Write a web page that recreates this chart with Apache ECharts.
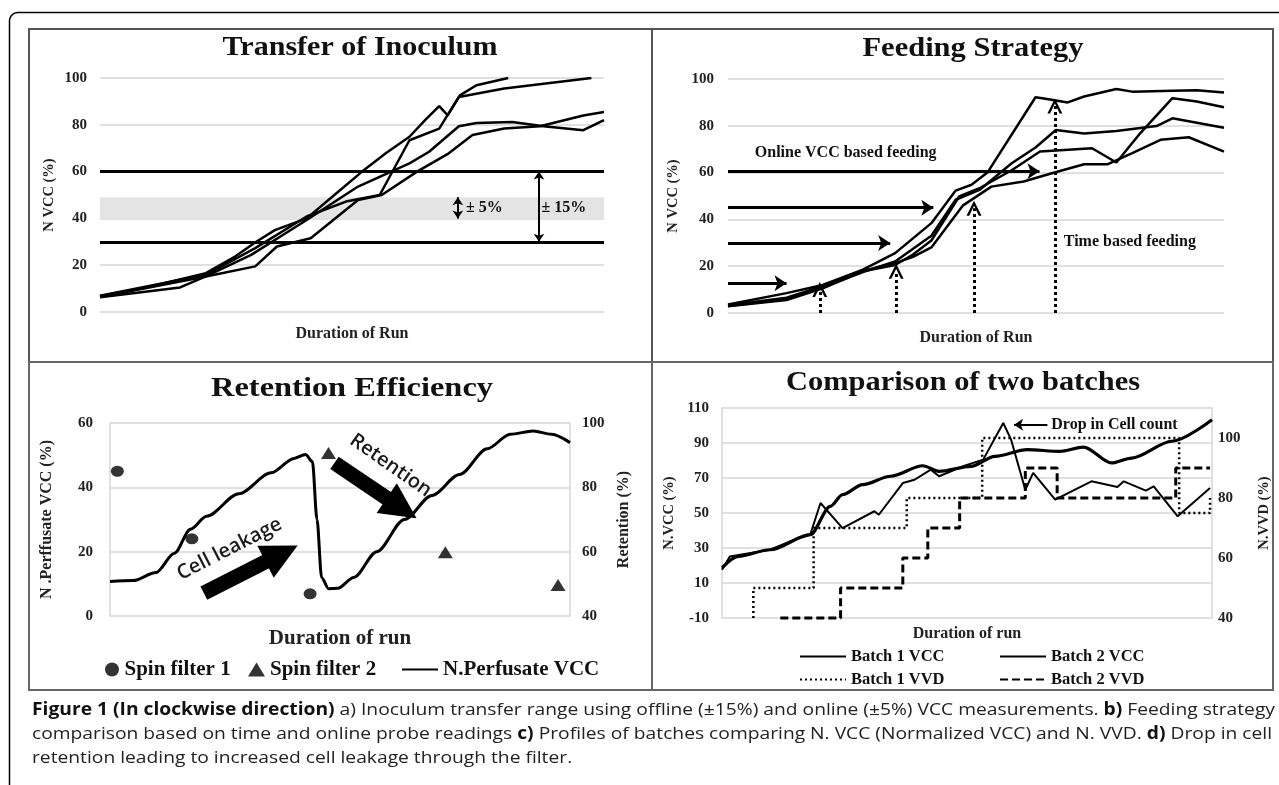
<!DOCTYPE html>
<html><head><meta charset="utf-8">
<script src="https://cdn.jsdelivr.net/npm/echarts@6/dist/echarts.min.js"></script>
<style>html,body{margin:0;padding:0;background:#fff}#c{width:1279px;height:785px}</style>
</head><body><div id="c"></div>
<script>
// ---------- Panel a: Transfer of Inoculum (x = % of run duration) ----------
const aRun1X = [0,9.6,21,26.8,31,34.7,41,46.5,52,56.7,61.4,64.5,67.3,69,71.4,74.7,81];
const aRun1Y = [6.7,10.7,16.6,23.7,30,35,40,50,60,67.8,74.9,82,88,84,92.6,96.9,100];
const aRun2X = [0,21,30.8,41,48.8,55.5,61.4,67.3,71.2,80.2,97.5];
const aRun2Y = [7,15.9,27.3,40.8,47.2,50,73.4,78.4,91.9,95.5,100];
const aRun3X = [0,21,30,41,51.2,61.4,65.3,71.2,74.7,81.8,88,95.9,100];
const aRun3Y = [6.4,15.2,24.4,39.3,53.6,63.5,68.5,79.4,80.8,81.2,79.4,77.7,82];
const aRun4X = [0,15.9,21,30.8,35.1,41.8,51.2,55.9,62.9,69.2,73.9,80.2,87.3,95.9,100];
const aRun4Y = [6.3,10.5,15.2,19.5,28,31.5,47.9,50,60,67.8,75.6,78.4,79.4,84,85.5];
const aOfflineRange = [30, 60];   // ±15%
const aOnlineRange = [40, 49];    // ±5%
const aYTicks = {min:0, max:100, step:20};

// ---------- Panel b: Feeding Strategy ----------
const bRun1X = [0,11.8,19.1,27.2,33.7,41,45.9,49.1,52.3,62,64,68.5,71.8,78.3,81.5,89.6,94.5,100];
const bRun1Y = [3.6,8.5,12,18.5,25.6,38.4,52.3,54.8,60,92.2,91.6,90,92.5,95.7,94.6,95,95.2,94.2];
const bRun2X = [0,11.8,19.1,27.2,33.7,41,45.9,50.7,57.2,62,66.1,71.8,78.3,86.4,89.6,100];
const bRun2Y = [3,6,11,17.5,22,33,48.4,52.6,64,70.7,78.2,76.7,77.8,79.9,83.2,79.2];
const bRun3X = [0,11.8,19.1,27.2,33.7,37.3,41,46.6,50.7,57.2,62.9,73.4,78.3,83.1,89.6,94.5,100];
const bRun3Y = [2.9,5.5,10.5,17.8,20.5,25,31,49.8,53.3,61,69,70.4,64.3,76.8,91.8,90.4,87.9];
const bRun4X = [0,11.8,19.1,27.2,33.7,37.3,41,47.4,53.1,59.6,65.3,71.8,76.6,81.5,87.2,92.9,100];
const bRun4Y = [3.3,6.5,11.5,18,21.3,24,28,46,54,56.2,59.7,63.6,63.6,68.3,74,75.1,69];
const bOnlineLevels = [12.7, 29.9, 45, 60.6];     // N VCC levels of online feeding
const bOnlineReachX = [11.8, 32.7, 41.4, 62.8];
const bTimeFeedX = [18.5, 33.9, 49.6, 65.9];      // time based feeds
const bTimeFeedTop = [10, 17.8, 44.8, 88.5];

// ---------- Panel c: Retention Efficiency ----------
const cPerfX = [0,5,10,14,17.5,21,28,35,40,42.5,44,45,46,47.5,49.5,53,58,64,70,76,82,87,92,96,100];
const cPerfY = [10.7,11,13.5,19.5,27,31,38,44.5,49,50.2,48,30,12,8.5,8.6,12,20,30,37.5,44,52,56.5,57.5,56.5,53.9];
const cSpin1X = [1.6, 17.8, 43.5];
const cSpin1Y = [85, 64, 46.9];      // Retention (%)
const cSpin2X = [47.5, 72.9, 97.4];
const cSpin2Y = [90.7, 59.8, 49.6];  // Retention (%)

// ---------- Panel d: Comparison of two batches ----------
const dB1VccX = [0,1.6,9.8,13.9,18,20.1,24.6,31.1,32,36.9,39.3,42.6,44.3,49.2,53.3,57.4,59,61.9,63.5,68,75.4,80.7,82,86.5,88.1,93,99.6];
const dB1VccY = [17.6,25.2,29,33.8,37.6,55.7,41.4,51,49,67.1,69,74.8,71,76.7,80.5,101.4,91.9,63.3,72.9,57.6,68.1,64.9,68.1,62.8,65.2,48.1,64.3];
const dB2VccX = [0,3.3,9.8,18,22.1,24.6,28.7,34.4,41,44.3,50.8,55.7,62.3,68.9,73.8,79.5,83.6,91.8,100];
const dB2VccY = [18.6,25.2,29,37.6,53.8,60.5,66.2,71,77,73.8,76.7,82.4,86.2,85.2,87.7,78.6,81.4,91,103.3];
const dB1VvdX = [6.4,6.4,18.7,37.7,53.1,93.3,99.6];
const dB1VvdY = [40,50,70,80,100,75,80];
const dB2VvdX = [11.9,24.2,36.9,42,48.5,61.9,68.4,92.6,99.6];
const dB2VvdY = [40,50,60,70,80,90,80,90,90];
const dVccMin = -10, dVccMax = 110, dVccStep = 20;
const dVvdMin = 40, dVvdMax = 110, dVvdStep = 20;

// ---------- texts ----------
const titles = ['Transfer of Inoculum','Feeding Strategy','Retention Efficiency','Comparison of two batches'];
const captionLines = [
  '{b|Figure 1 (In clockwise direction)}{n| a) Inoculum transfer range using offline (±15%) and online (±5%) VCC measurements. }{b|b)}{n| Feeding strategy}',
  '{n|comparison based on time and online probe readings }{b|c)}{n| Profiles of batches comparing N. VCC (Normalized VCC) and N. VVD. }{b|d)}{n| Drop in cell}',
  '{n|retention leading to increased cell leakage through the filter.}'
];

// ---------- helpers ----------
const FS = '"Liberation Serif","Times New Roman",serif';
const SANS = '"Open Sans","Noto Sans",sans-serif';
const pairs = (xs, ys, off) => xs.map((x, i) => [x, ys[i] + (off || 0)]);
const dOff = -dVccMin; // shift so the left axis starts at 0
const ctx = document.createElement('canvas').getContext('2d');
function textW(t, font){ ctx.font = font; return ctx.measureText(t).width; }

const lblStyle = {fontFamily: FS, fontWeight: 'bold', fontSize: 15, color: '#222'};
const nameStyle = (s) => ({fontFamily: FS, fontWeight: 'bold', fontSize: s, color: '#222'});
const grid = '#d6d6d6';

function lineSeries(name, data, xi, yi, w, extra){
  return Object.assign({type:'line', name, data, xAxisIndex:xi, yAxisIndex:yi, symbol:'none', silent:true,
    lineStyle:{color:'#000', width:w}, itemStyle:{color:'#000'}, z:3}, extra || {});
}
function txt(coord, text, pos, size, extra){
  return {coord, symbolSize:0, itemStyle:{color:'transparent'},
    label:Object.assign({show:true, formatter:text, position:pos, distance:0, fontFamily:FS, fontWeight:'bold', fontSize:size, color:'#111'}, extra||{})};
}
function seg(p1, p2, s1, s2, style, size){
  return [{coord:p1, symbol:s1, symbolSize:size, lineStyle:style}, {coord:p2, symbol:s2, symbolSize:size}];
}
const chevron = 'path://M0,10 L5,0 L10,10 L8.2,10 L5,3.4 L1.8,10 Z';

const series = [];
// panel a
[[aRun1X,aRun1Y],[aRun2X,aRun2Y],[aRun3X,aRun3Y],[aRun4X,aRun4Y]].forEach((r,i)=>series.push(lineSeries('a'+i, pairs(r[0],r[1]),0,0,2.5)));
series.push({type:'line', name:'aNotes', data:[], xAxisIndex:0, yAxisIndex:0, silent:true, z:2,
  markArea:{silent:true, itemStyle:{color:'#e4e4e4'}, data:[[{yAxis:aOnlineRange[0]},{yAxis:aOnlineRange[1]}]]},
  markLine:{silent:true, symbol:['none','none'], label:{show:false}, animation:false, data:[
    {yAxis:aOfflineRange[1], lineStyle:{color:'#000', width:3, type:'solid'}},
    {yAxis:aOfflineRange[0], lineStyle:{color:'#000', width:3, type:'solid'}},
    seg([71, aOnlineRange[0]],[71, aOnlineRange[1]],'arrow','arrow',{color:'#000',width:2,type:'solid'},8),
    seg([87.1, aOfflineRange[0]],[87.1, aOfflineRange[1]],'arrow','arrow',{color:'#000',width:2,type:'solid'},8)
  ]},
  markPoint:{silent:true, data:[txt([72.6,44.3],'± 5%','right',16), txt([87.6,44.3],'± 15%','right',16)]}
});
// panel b
[[bRun1X,bRun1Y],[bRun2X,bRun2Y],[bRun3X,bRun3Y],[bRun4X,bRun4Y]].forEach((r,i)=>series.push(lineSeries('b'+i, pairs(r[0],r[1]),1,1,2.5)));
const bLines = [];
bOnlineLevels.forEach((y,i)=>bLines.push(seg([0,y],[bOnlineReachX[i],y],'none','arrow',{color:'#000',width:3,type:'solid'},12)));
bTimeFeedX.forEach((x,i)=>bLines.push(seg([x,0],[x,bTimeFeedTop[i]],'none',chevron,{color:'#000',width:3,type:[3,3]},15)));
series.push({type:'line', name:'bNotes', data:[], xAxisIndex:1, yAxisIndex:1, silent:true, z:4,
  markLine:{silent:true, symbol:['none','none'], label:{show:false}, data:bLines},
  markPoint:{silent:true, data:[txt([5.4,68.3],'Online VCC based feeding','right',16), txt([67.7,30.6],'Time based feeding','right',16)]}
});
// panel c
series.push({type:'scatter', name:'Spin filter 1', data:pairs(cSpin1X,cSpin1Y), xAxisIndex:2, yAxisIndex:3, symbol:'circle', symbolSize:[13,11], itemStyle:{color:'#000'}, silent:true, z:4});
series.push({type:'scatter', name:'Spin filter 2', data:pairs(cSpin2X,cSpin2Y), xAxisIndex:2, yAxisIndex:3, symbol:'triangle', symbolSize:[15,12], itemStyle:{color:'#000'}, silent:true, z:4});
series.push(lineSeries('N.Perfusate VCC', pairs(cPerfX,cPerfY), 2, 2, 3, {smooth:0.3, smoothMonotone:'x'}));
series.push({type:'line', name:'cNotes', data:[], xAxisIndex:2, yAxisIndex:2, silent:true, z:5,
  markLine:{silent:true, symbol:['none','none'], label:{show:false}, data:[
    seg([20.4,7.1],[37.3,19.4],'none','triangle',{color:'#000',width:15,type:'solid'},36),
    seg([48.8,47.6],[63.4,33.5],'none','triangle',{color:'#000',width:15,type:'solid'},36)
  ]},
  markPoint:{silent:true, data:[
    txt([26,20.8],'Cell leakage','inside',20,{rotate:27, fontFamily:SANS, fontWeight:600, color:'#1a1a1a'}),
    txt([61,46.8],'Retention','inside',20,{rotate:-35, fontFamily:SANS, fontWeight:600, color:'#1a1a1a'})
  ]}
});
// panel d
series.push(lineSeries('Batch 1 VCC', pairs(dB1VccX,dB1VccY,dOff), 3, 4, 2));
series.push(lineSeries('Batch 2 VCC', pairs(dB2VccX,dB2VccY,dOff), 3, 4, 3.2, {smooth:0.3, smoothMonotone:'x'}));
series.push(lineSeries('Batch 1 VVD', pairs(dB1VvdX,dB1VvdY), 3, 5, 2.5, {step:'end', clip:false, lineStyle:{color:'#000', width:2.5, type:[2,3]}}));
series.push(lineSeries('Batch 2 VVD', pairs(dB2VvdX,dB2VvdY), 3, 5, 3, {step:'end', clip:false, lineStyle:{color:'#000', width:3, type:[8,4]}}));
series.push({type:'line', name:'dNotes', data:[], xAxisIndex:3, yAxisIndex:4, silent:true, z:5,
  markLine:{silent:true, symbol:['none','none'], label:{show:false}, data:[
    seg([66.4,100.5+dOff],[59.6,100.5+dOff],'none','arrow',{color:'#000',width:2,type:'solid'},9)
  ]},
  markPoint:{silent:true, data:[txt([67.2,100.5+dOff],'Drop in Cell count','right',16)]}
});

// ---------- axes ----------
const xAxes = [
  {gridIndex:0, name:'Duration of Run', nameGap:14, ns:16},
  {gridIndex:1, name:'Duration of Run', nameGap:17, ns:16},
  {gridIndex:2, name:'Duration of run', nameGap:12, ns:21},
  {gridIndex:3, name:'Duration of run', nameGap:8, ns:16}
].map(a=>({gridIndex:a.gridIndex, type:'value', min:0, max:100, axisLine:{show:false}, axisTick:{show:false},
  axisLabel:{show:false}, splitLine:{show:false}, name:a.name, nameLocation:'middle', nameGap:a.nameGap, nameTextStyle:nameStyle(a.ns)}));

const ySplit = {show:true, lineStyle:{color:grid, width:1.5}};
const yAxes = [
  {gridIndex:0, type:'value', min:aYTicks.min, max:aYTicks.max, interval:aYTicks.step, axisLine:{show:false}, axisTick:{show:false},
   axisLabel:Object.assign({margin:13}, lblStyle), splitLine:ySplit, name:'N VCC (%)', nameLocation:'middle', nameRotate:90, nameGap:43, nameTextStyle:nameStyle(14.5)},
  {gridIndex:1, type:'value', min:0, max:100, interval:20, axisLine:{show:false}, axisTick:{show:false},
   axisLabel:Object.assign({margin:14}, lblStyle), splitLine:ySplit, name:'N VCC (%)', nameLocation:'middle', nameRotate:90, nameGap:47, nameTextStyle:nameStyle(14.5)},
  {gridIndex:2, type:'value', min:0, max:60, interval:20, position:'left', axisLine:{show:true, lineStyle:{color:grid, width:1.5}}, axisTick:{show:false},
   axisLabel:Object.assign({margin:17}, lblStyle), splitLine:ySplit, name:'N .Perffusate VCC (%)', nameLocation:'middle', nameRotate:90, nameGap:55, nameTextStyle:nameStyle(16)},
  {gridIndex:2, type:'value', min:40, max:100, interval:20, position:'right', axisLine:{show:true, lineStyle:{color:grid, width:1.5}}, axisTick:{show:false},
   axisLabel:Object.assign({margin:12}, lblStyle), splitLine:{show:false}, name:'Retention (%)', nameLocation:'middle', nameRotate:90, nameGap:46, nameTextStyle:nameStyle(16)},
  {gridIndex:3, type:'value', min:0, max:dVccMax-dVccMin, interval:dVccStep, position:'left', axisLine:{show:true, lineStyle:{color:grid, width:1.5}}, axisTick:{show:false},
   axisLabel:Object.assign({margin:13, formatter:(v)=>String(v-dOff)}, lblStyle), splitLine:ySplit, name:'N.VCC (%)', nameLocation:'middle', nameRotate:90, nameGap:45, nameTextStyle:nameStyle(14.5)},
  {gridIndex:3, type:'value', min:dVvdMin, max:dVvdMax, interval:dVvdStep, position:'right', axisLine:{show:true, lineStyle:{color:grid, width:1.5}}, axisTick:{show:false},
   axisLabel:Object.assign({margin:6, formatter:(v)=>(v>100?'':String(v))}, lblStyle), splitLine:{show:false}, name:'N.VVD (%)', nameLocation:'middle', nameRotate:90, nameGap:45, nameTextStyle:nameStyle(14.5)}
];

// ---------- legends ----------
function lg(name, left, top, w, h, size, extra){
  return Object.assign({data:[name], left, top, itemWidth:w, itemHeight:h, padding:0, itemGap:0, selectedMode:false,
    textStyle:{fontFamily:FS, fontWeight:'bold', fontSize:size, color:'#111'}}, extra||{});
}
const legends = [
  lg('Spin filter 1', 105, 659, 15, 14, 21, {icon:'circle'}),
  lg('Spin filter 2', 248, 659, 17, 14, 21, {icon:'triangle'}),
  lg('N.Perfusate VCC', 401, 659, 36, 14, 21, {itemStyle:{opacity:0}}),
  lg('Batch 1 VCC', 799, 648, 46, 14, 16.5, {itemStyle:{opacity:0}}),
  lg('Batch 2 VCC', 999, 648, 46, 14, 16.5, {itemStyle:{opacity:0}}),
  lg('Batch 1 VVD', 799, 671, 46, 14, 16.5, {itemStyle:{opacity:0}}),
  lg('Batch 2 VVD', 999, 671, 46, 14, 16.5, {itemStyle:{opacity:0}})
];

// ---------- frame, titles, caption ----------
const titleFont = (s)=>'bold '+s+'px '+FS;
const titleSpec = [
  {t:titles[0], x:360, y:48, s:28, w:275},
  {t:titles[1], x:973, y:49, s:28, w:221},
  {t:titles[2], x:352, y:389, s:28, w:282},
  {t:titles[3], x:963, y:383, s:28, w:354}
];
const corner = [];
for (let k = 0; k <= 8; k++) { const a = Math.PI + k * Math.PI / 16; corner.push([18 + 8.5 * Math.cos(a), 21 + 8.5 * Math.sin(a)]); }
const graphics = [
  {type:'polyline', shape:{points:[[9.5,785]].concat(corner, [[1279,12.5]])}, style:{stroke:'#000', lineWidth:1.5, fill:null}, silent:true},
  {type:'rect', shape:{x:29,y:29,width:623,height:333}, style:{stroke:'#555', lineWidth:2, fill:null}, silent:true},
  {type:'rect', shape:{x:652,y:29,width:621,height:333}, style:{stroke:'#555', lineWidth:2, fill:null}, silent:true},
  {type:'rect', shape:{x:29,y:362,width:623,height:328}, style:{stroke:'#666', lineWidth:2, fill:null}, silent:true},
  {type:'rect', shape:{x:652,y:362,width:621,height:328}, style:{stroke:'#666', lineWidth:2, fill:null}, silent:true}
];
titleSpec.forEach(t=>{
  const sx = t.w / textW(t.t, titleFont(t.s));
  graphics.push({type:'text', x:t.x, y:t.y, scaleX:sx, silent:true,
    style:{text:t.t, font:titleFont(t.s), fill:'#111', align:'center', verticalAlign:'middle'}});
});
const capB = 'bold 17px '+SANS, capN = '17px '+SANS;
const line1W = textW('Figure 1 (In clockwise direction)', capB) + textW(' a) Inoculum transfer range using offline (±15%) and online (±5%) VCC measurements. ', capN)
  + textW('b)', capB) + textW(' Feeding strategy', capN);
const capScale = 1243 / line1W;
const capY = [710, 734, 758];
captionLines.forEach((t,i)=>{
  graphics.push({type:'text', x:32, y:capY[i], scaleX:capScale, silent:true,
    style:{text:t, verticalAlign:'middle', align:'left',
      rich:{b:{font:capB, fill:'#111'}, n:{font:capN, fill:'#222'}}}});
});

const option = {
  animation:false,
  backgroundColor:'#fff',
  grid:[
    {left:100, top:78, width:504, height:234},
    {left:728, top:79, width:496, height:234},
    {left:110, top:423, width:460, height:193},
    {left:722, top:408, width:490, height:210}
  ].map(g=>Object.assign({containLabel:false, outerBoundsMode:'none'}, g)),
  xAxis:xAxes, yAxis:yAxes, legend:legends, series, graphic:graphics
};
const chart = echarts.init(document.getElementById('c'), null, {renderer:'canvas'});
chart.setOption(option);
</script></body></html>
